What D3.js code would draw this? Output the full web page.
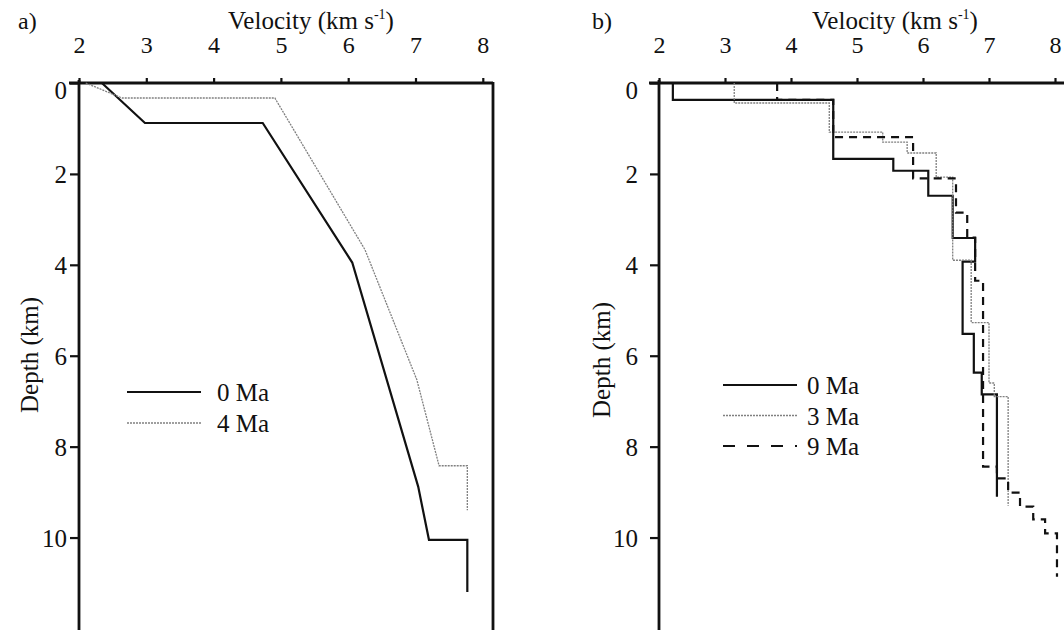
<!DOCTYPE html>
<html><head><meta charset="utf-8">
<script src="https://cdn.jsdelivr.net/npm/d3@7"></script>
<style>
body{margin:0;background:#fff;}
svg text{font-family:"Liberation Serif","Times New Roman",Times,serif;}
</style></head>
<body><svg id="c" width="1064" height="630"></svg>
<script>
// ---- data ----
const xTicks = [2,3,4,5,6,7,8];
const yTicks = [0,2,4,6,8,10];
const legendA = ["0 Ma","4 Ma"];
const legendB = ["0 Ma","3 Ma","9 Ma"];
// panel a: [velocity, depth]
const a0Ma = [[2.34,0],[2.98,0.88],[4.73,0.88],[6.06,3.95],[7.04,8.88],[7.2,10.05],[7.77,10.05],[7.77,11.2]];
const a4Ma = [[2.1,0],[2.64,0.33],[4.91,0.33],[6.25,3.67],[7.02,6.53],[7.35,8.42],[7.77,8.42],[7.77,9.4]];
// panel b
const b0Ma = [[2.21,0],[2.21,0.37],[4.64,0.37],[4.64,1.67],[5.55,1.67],[5.55,1.93],[6.08,1.93],[6.08,2.48],[6.45,2.48],[6.45,3.41],[6.79,3.41],[6.79,3.93],[6.6,3.93],[6.6,5.52],[6.77,5.52],[6.77,6.37],[6.89,6.37],[6.89,6.85],[7.12,6.85],[7.12,9.1]];
const b3Ma = [[3.14,0],[3.14,0.44],[4.58,0.44],[4.58,1.08],[5.39,1.08],[5.39,1.3],[5.76,1.3],[5.76,1.54],[6.2,1.54],[6.2,2.07],[6.45,2.07],[6.45,3.9],[6.73,3.9],[6.73,5.27],[7.0,5.27],[7.0,6.6],[7.08,6.6],[7.08,6.9],[7.29,6.9],[7.29,9.3]];
const b9Ma = [[3.79,0],[3.79,0.37],[4.64,0.37],[4.64,1.19],[5.85,1.19],[5.85,2.1],[6.5,2.1],[6.5,2.85],[6.67,2.85],[6.67,3.4],[6.79,3.4],[6.79,4.35],[6.91,4.35],[6.91,8.44],[7.12,8.44],[7.12,8.7],[7.29,8.7],[7.29,9.01],[7.47,9.01],[7.47,9.32],[7.67,9.32],[7.67,9.6],[7.85,9.6],[7.85,9.91],[8.03,9.91],[8.03,10.86]];

const FONT = "Liberation Serif";
const svg = d3.select("#c");
const styles = {
  solid:{stroke:"#111",width:2.2,dash:null},
  dotted:{stroke:"#808080",width:1.3,dash:"2,1"},
  dashed:{stroke:"#111",width:2.2,dash:"8,6"}
};

function panel(cfg){
  const g = svg.append("g");
  const x = d3.scaleLinear().domain([2,cfg.xmax]).range([cfg.x0,cfg.x1]);
  const y = d3.scaleLinear().domain([0,12.1]).range([83,633]);
  g.append("line").attr("x1",cfg.x0-10).attr("x2",cfg.x1).attr("y1",83).attr("y2",83).attr("stroke","#111").attr("stroke-width",2.8);
  g.append("line").attr("x1",cfg.x0).attr("x2",cfg.x0).attr("y1",80).attr("y2",630).attr("stroke","#111").attr("stroke-width",2.8);
  if(cfg.rightBorder) g.append("line").attr("x1",cfg.x1).attr("x2",cfg.x1).attr("y1",82).attr("y2",630).attr("stroke","#111").attr("stroke-width",2.8);
  const xa = d3.axisTop(x).tickValues(xTicks).tickSize(5).tickPadding(28).tickFormat(d3.format("d"));
  const gx = g.append("g").attr("transform","translate(0,83)").call(xa);
  gx.attr("font-family",FONT).attr("font-size",24);
  gx.select(".domain").remove();
  gx.selectAll(".tick line").attr("stroke","#111").attr("stroke-width",2.2);
  gx.selectAll(".tick text").attr("fill","#111").attr("dy","0").attr("y",-30);
  const ya = d3.axisLeft(y).tickValues(yTicks).tickSize(9).tickPadding(cfg.yPad).tickFormat(d3.format("d"));
  const gy = g.append("g").attr("transform",`translate(${cfg.x0},0)`).call(ya);
  gy.attr("font-family",FONT).attr("font-size",25);
  gy.select(".domain").remove();
  gy.selectAll(".tick line").attr("stroke","#111").attr("stroke-width",2.2);
  gy.selectAll(".tick text").attr("fill","#111").attr("dy",d=>d===0?"0.62em":"0.35em");
  const t = g.append("text").attr("x",cfg.titleX).attr("y",29).attr("text-anchor","middle").attr("font-size",25).attr("fill","#111").attr("font-family",FONT);
  t.append("tspan").text("Velocity (km s");
  t.append("tspan").attr("font-size",14).attr("dy",-10).text("-1");
  t.append("tspan").attr("dy",10).text(")");
  g.append("text").attr("x",cfg.panelX).attr("y",29).attr("font-size",24).attr("fill","#111").attr("font-family",FONT).text(cfg.panel);
  g.append("text").attr("transform",`translate(${cfg.ylabX},${cfg.ylabY}) rotate(-90)`).attr("text-anchor","middle").attr("font-size",25).attr("fill","#111").attr("font-family",FONT).text("Depth (km)");
  const line = d3.line().x(d=>x(d[0])).y(d=>y(d[1]));
  cfg.series.forEach((s,i)=>{
    const st = styles[s.style];
    g.append("path").datum(s.data).attr("d",line).attr("fill","none").attr("stroke",st.stroke).attr("stroke-width",st.width).attr("stroke-dasharray",st.dash).attr("stroke-linejoin","miter");
    const ly = cfg.legY + i*cfg.legDy;
    g.append("line").attr("x1",cfg.legX).attr("x2",cfg.legX+74).attr("y1",ly).attr("y2",ly).attr("stroke",st.stroke).attr("stroke-width",st.width).attr("stroke-dasharray",s.style==="dashed"?"12,12":st.dash);
    g.append("text").attr("x",cfg.legX+(cfg.legTx)).attr("y",ly+9).attr("font-size",25).attr("fill","#111").attr("font-family",FONT).text(s.name);
  });
}

panel({x0:79,x1:493,xmax:2+(493-79)/67.3,rightBorder:true,titleX:311,panelX:18,panel:"a)",ylabX:38,ylabY:355,yPad:3,
  legX:127,legY:392,legDy:31,legTx:90,
  series:[{name:legendA[0],data:a0Ma,style:"solid"},{name:legendA[1],data:a4Ma,style:"dotted"}]});
panel({x0:659,x1:1064,xmax:2+(1064-659)/66,rightBorder:false,titleX:895,panelX:592,panel:"b)",ylabX:610,ylabY:360,yPad:12,
  legX:723,legY:385,legDy:30.5,legTx:84,
  series:[{name:legendB[0],data:b0Ma,style:"solid"},{name:legendB[1],data:b3Ma,style:"dotted"},{name:legendB[2],data:b9Ma,style:"dashed"}]});
</script></body></html>
